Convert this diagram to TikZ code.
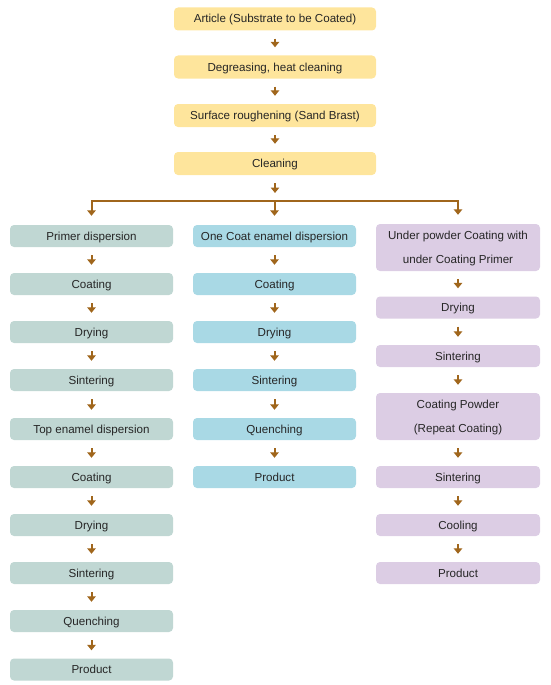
\documentclass[tikz,border=0pt]{standalone}
\usepackage{fontspec}
\setmainfont{Liberation Sans}
\usetikzlibrary{arrows.meta}
\definecolor{ybox}{HTML}{FEE59C}
\definecolor{gbox}{HTML}{C0D7D3}
\definecolor{bbox}{HTML}{A9D9E5}
\definecolor{pbox}{HTML}{DCCDE4}
\definecolor{arrc}{HTML}{A0661C}
\definecolor{txt}{HTML}{262626}
\tikzset{
  box/.style={rounded corners=4pt, minimum height=22pt, inner sep=0pt, text=txt,
    font=\fontsize{11.6}{24}\selectfont, align=center, text height=8pt, text depth=0pt},
  ybx/.style={box, fill=ybox, minimum width=202pt, minimum height=23pt},
  gbx/.style={box, fill=gbox, minimum width=163pt},
  bbx/.style={box, fill=bbox, minimum width=163pt},
  pbx/.style={box, fill=pbox, minimum width=164pt},
  tall/.style={minimum height=47pt, text height=36.3pt, text depth=3.7pt},
  arr/.style={draw=arrc, line width=2pt, -{Triangle[width=8.5pt,length=5.5pt]}, shorten >=8pt, shorten <=8pt},
  barline/.style={draw=arrc, line width=2pt, line cap=rect},
}
\begin{document}
\begin{tikzpicture}[x=1pt,y=-1pt]
\useasboundingbox (0,0) rectangle (550,685);
% top chain
\node[ybx] (t1) at (275,19) {Article (Substrate to be Coated)};
\node[ybx] (t2) at (275,67) {Degreasing, heat cleaning};
\node[ybx] (t3) at (275,115.5) {Surface roughening (Sand Brast)};
\node[ybx] (t4) at (275,163.5) {Cleaning};
\draw[arr] (t1) -- (t2);
\draw[arr] (t2) -- (t3);
\draw[arr] (t3) -- (t4);
% left column
\node[gbx] (l1) at (91.5,236) {Primer dispersion};
\node[gbx] (l2) at (91.5,284) {Coating};
\node[gbx] (l3) at (91.5,332) {Drying};
\node[gbx] (l4) at (91.5,380) {Sintering};
\node[gbx] (l5) at (91.5,429) {Top enamel dispersion};
\node[gbx] (l6) at (91.5,477) {Coating};
\node[gbx] (l7) at (91.5,525) {Drying};
\node[gbx] (l8) at (91.5,573) {Sintering};
\node[gbx] (l9) at (91.5,621) {Quenching};
\node[gbx] (l10) at (91.5,669.5) {Product};
\foreach \a/\b in {l1/l2,l2/l3,l3/l4,l4/l5,l5/l6,l6/l7,l7/l8,l8/l9,l9/l10} \draw[arr] (\a) -- (\b);
% middle column
\node[bbx] (m1) at (274.5,236) {One Coat enamel dispersion};
\node[bbx] (m2) at (274.5,284) {Coating};
\node[bbx] (m3) at (274.5,332) {Drying};
\node[bbx] (m4) at (274.5,380) {Sintering};
\node[bbx] (m5) at (274.5,429) {Quenching};
\node[bbx] (m6) at (274.5,477) {Product};
\foreach \a/\b in {m1/m2,m2/m3,m3/m4,m4/m5,m5/m6} \draw[arr] (\a) -- (\b);
% right column
\node[pbx,tall] (r1) at (458,247.5) {Under powder Coating with\\under Coating Primer};
\node[pbx] (r2) at (458,307.5) {Drying};
\node[pbx] (r3) at (458,356) {Sintering};
\node[pbx,tall] (r4) at (458,416.5) {Coating Powder\\(Repeat Coating)};
\node[pbx] (r5) at (458,477) {Sintering};
\node[pbx] (r6) at (458,525) {Cooling};
\node[pbx] (r7) at (458,573) {Product};
\foreach \a/\b in {r1/r2,r2/r3,r3/r4,r4/r5,r5/r6,r6/r7} \draw[arr] (\a) -- (\b);
% branch
\coordinate (bar) at (275,201);
\draw[arr] (t4) -- (bar);
\draw[barline] (bar -| l1) -- (bar -| r1);
\draw[arr, shorten <=0pt, shorten >=9pt] (bar -| l1) -- (l1);
\draw[arr, shorten <=0pt, shorten >=9pt] (bar -| m1) -- (m1);
\draw[arr, shorten <=0pt, shorten >=9pt] (bar -| r1) -- (r1);
\end{tikzpicture}
\end{document}
